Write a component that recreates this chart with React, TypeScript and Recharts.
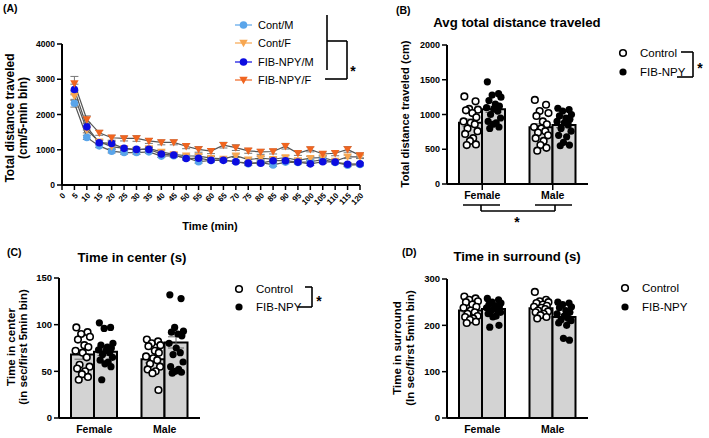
import React from 'react'
import { ComposedChart, Line, Bar, Scatter, XAxis, YAxis, ErrorBar } from 'recharts'

const FONT = '"Liberation Sans", Arial, Helvetica, sans-serif'

// (A) distance per 5-min bin
const minutes = [5, 10, 15, 20, 25, 30, 35, 40, 45, 50, 55, 60, 65, 70, 75, 80, 85, 90, 95, 100, 105, 110, 115, 120]
const timeTicks = [0, 5, 10, 15, 20, 25, 30, 35, 40, 45, 50, 55, 60, 65, 70, 75, 80, 85, 90, 95, 100, 105, 110, 115, 120]
const contM = [2320, 1350, 1110, 960, 920, 920, 940, 820, 830, 775, 660, 700, 715, 660, 600, 640, 570, 650, 640, 660, 720, 640, 560, 580]
const contF = [2520, 1560, 1230, 1090, 1040, 990, 1040, 940, 870, 830, 820, 760, 740, 830, 720, 760, 730, 780, 700, 760, 780, 680, 800, 800]
const fibM = [2710, 1650, 1200, 1180, 1040, 1010, 1010, 880, 850, 750, 760, 700, 700, 660, 620, 620, 690, 690, 650, 600, 660, 650, 590, 600]
const fibF = [2880, 1860, 1480, 1340, 1320, 1320, 1250, 1210, 1210, 1100, 1010, 960, 1130, 1060, 970, 940, 950, 1100, 900, 1010, 880, 900, 1010, 840]
const contMErr = [110, 60, 50, 50, 45, 50, 45, 40, 45, 40, 40, 40, 40, 40, 50, 45, 40, 45, 40, 40, 45, 40, 40, 40]
const contFErr = [120, 80, 60, 60, 55, 60, 50, 50, 50, 45, 50, 45, 45, 50, 45, 45, 45, 50, 45, 50, 50, 45, 50, 50]
const fibMErr = [150, 90, 60, 60, 55, 60, 55, 50, 50, 45, 45, 45, 45, 45, 45, 45, 45, 45, 45, 45, 45, 45, 45, 40]
const fibFErr = [200, 100, 70, 70, 70, 80, 70, 70, 70, 70, 80, 70, 80, 80, 70, 70, 70, 80, 60, 70, 60, 70, 80, 70]

const sexes = ['Female', 'Male']

// (B) avg total distance (cm)
const distCtrlMean = [880, 815]
const distFibMean = [1075, 850]
const distCtrlSem = [55, 50]
const distFibSem = [45, 40]
const distCtrlF = [1260, 1190, 1080, 1070, 1060, 1020, 960, 900, 880, 860, 800, 760, 720, 660, 620, 570, 560]
const distFibF = [1470, 1300, 1280, 1250, 1200, 1150, 1120, 1100, 1080, 1050, 1000, 950, 900, 880, 860, 820, 800]
const distCtrlM = [1210, 1140, 1050, 1020, 980, 900, 860, 820, 800, 760, 740, 700, 660, 620, 560, 520, 480]
const distFibM = [1090, 1070, 1050, 1000, 980, 950, 930, 900, 880, 850, 800, 760, 700, 680, 600, 560, 550]

// (C) time in center (s)
const centerCtrlMean = [68, 63]
const centerFibMean = [71, 81]
const centerCtrlSem = [5, 4]
const centerFibSem = [4, 6]
const centerCtrlF = [97, 92, 90, 87, 84, 78, 76, 72, 70, 65, 57, 55, 53, 50, 47, 44, 41]
const centerFibF = [102, 97, 96, 80, 78, 76, 75, 73, 72, 70, 68, 65, 62, 60, 58, 55, 41]
const centerCtrlM = [84, 82, 80, 78, 77, 72, 70, 66, 64, 62, 58, 55, 52, 50, 48, 30]
const centerFibM = [132, 128, 97, 93, 92, 90, 88, 80, 75, 70, 68, 60, 55, 52, 50, 49, 48]

// (D) time in surround (s)
const surrCtrlMean = [232, 237]
const surrFibMean = [235, 218]
const surrCtrlSem = [4, 4]
const surrFibSem = [4, 6]
const surrCtrlF = [262, 258, 255, 252, 250, 245, 240, 238, 232, 228, 225, 220, 218, 215, 212, 208, 205]
const surrFibF = [258, 255, 250, 248, 245, 242, 240, 238, 235, 232, 230, 228, 225, 220, 218, 200, 196]
const surrCtrlM = [272, 255, 252, 250, 248, 245, 242, 240, 238, 235, 232, 230, 228, 225, 222, 218, 215]
const surrFibM = [250, 248, 245, 240, 238, 232, 228, 225, 220, 215, 212, 210, 205, 200, 172, 168]

// horizontal spread of the dots, as a fraction of half a bar
const jitter = [-0.8, 0.6, -0.2, 0.9, -0.6, 0.2, 0.7, -0.9, 0.0, 0.5, -0.4, 0.85, -0.7, 0.3, -0.1, 0.65, -0.5]

const lineSeries = [
  { key: 'contM', err: 'contMErr', name: 'Cont/M', color: '#5aa5ea', tri: false },
  { key: 'contF', err: 'contFErr', name: 'Cont/F', color: '#f7a650', tri: true },
  { key: 'fibM', err: 'fibMErr', name: 'FIB-NPY/M', color: '#0c0ce0', tri: false },
  { key: 'fibF', err: 'fibFErr', name: 'FIB-NPY/F', color: '#f06520', tri: true },
]

const lineRows = minutes.map((t, i) => ({
  t,
  contM: contM[i], contF: contF[i], fibM: fibM[i], fibF: fibF[i],
  contMErr: contMErr[i], contFErr: contFErr[i], fibMErr: fibMErr[i], fibFErr: fibFErr[i],
}))

function markerShape(x: number, y: number, color: string, tri: boolean, key?: any) {
  if (tri) {
    return <path key={key} d={`M${x - 4.2},${y - 3.2}L${x + 4.2},${y - 3.2}L${x},${y + 4.2}Z`} fill={color} />
  }
  return <circle key={key} cx={x} cy={y} r={3.8} fill={color} />
}

const axisLine = { stroke: '#000', strokeWidth: 2 }
const tickLineStyle = { stroke: '#000', strokeWidth: 1.5 }

function TimeCourse() {
  return (
    <ComposedChart width={364} height={230} data={lineRows} margin={{ top: 44, right: 4, bottom: 14, left: 22 }}>
      <XAxis dataKey="t" type="number" domain={[0, 120]} ticks={timeTicks} interval={0} height={31}
        tick={{ fontSize: 8, fontWeight: 700, fill: '#000', fontFamily: FONT }} angle={-45} textAnchor="end"
        tickSize={5} axisLine={axisLine} tickLine={tickLineStyle} />
      <YAxis domain={[0, 4000]} ticks={[0, 1000, 2000, 3000, 4000]} width={40} tickSize={5}
        tick={{ fontSize: 8.5, fontWeight: 700, fill: '#000', fontFamily: FONT }} axisLine={axisLine} tickLine={tickLineStyle} />
      {lineSeries.map((s) => (
        <Line key={s.key} dataKey={s.key} type="linear" stroke="#555" strokeWidth={1.2} isAnimationActive={false}
          dot={(p: any) => markerShape(p.cx, p.cy, s.color, s.tri, p.index)} activeDot={false}>
          <ErrorBar dataKey={s.err} width={4} stroke="#777" strokeWidth={1} />
        </Line>
      ))}
    </ComposedChart>
  )
}

const PLOT_W = 141
const BAR_W = 23
const UNIT = PLOT_W / 2
const HALF_BAR = BAR_W / 2 / UNIT
const SPREAD = 8 / UNIT

function dotRows(groups: number[][], side: number) {
  return groups.flatMap((vals, g) =>
    vals.map((v, i) => ({ x: g + 0.5 + side * HALF_BAR + jitter[i % jitter.length] * SPREAD, y: v })))
}

const openDot = (p: any) => <circle cx={p.cx} cy={p.cy} r={3.3} fill="#fff" stroke="#000" strokeWidth={1.6} />
const fullDot = (p: any) => <circle cx={p.cx} cy={p.cy} r={3.6} fill="#000" />

type PanelProps = {
  left: number; top: number; width: number; height: number
  margin: { top: number; right: number; bottom: number; left: number }
  yMax: number; yTicks: number[]; tickFont: number
  ctrlMean: number[]; fibMean: number[]; ctrlSem: number[]; fibSem: number[]
  ctrlDots: number[][]; fibDots: number[][]; showTicks: boolean
}

function DotBarPanel(p: PanelProps) {
  const rows = sexes.map((sex, i) => ({
    sex, ctrl: p.ctrlMean[i], fib: p.fibMean[i], ctrlSem: p.ctrlSem[i], fibSem: p.fibSem[i],
  }))
  return (
    <div style={{ position: 'absolute', left: p.left, top: p.top }}>
      <ComposedChart width={p.width} height={p.height} data={rows} margin={p.margin} barGap={0}>
        <XAxis xAxisId="cat" dataKey="sex" height={20} axisLine={axisLine}
          tickLine={p.showTicks ? tickLineStyle : false} tickSize={6}
          tick={{ fontSize: 10.5, fontWeight: 700, fill: '#000', fontFamily: FONT }} />
        <XAxis xAxisId="num" dataKey="x" type="number" domain={[0, 2]} hide allowDataOverflow />
        <YAxis domain={[0, p.yMax]} ticks={p.yTicks} width={36} tickSize={5} interval={0}
          tick={{ fontSize: p.tickFont, fontWeight: 700, fill: '#000', fontFamily: FONT }} axisLine={axisLine} tickLine={tickLineStyle} />
        <Bar xAxisId="cat" dataKey="ctrl" barSize={BAR_W} fill="#d3d3d3" stroke="#000" strokeWidth={2} isAnimationActive={false}>
          <ErrorBar dataKey="ctrlSem" width={8} stroke="#666" strokeWidth={1} />
        </Bar>
        <Bar xAxisId="cat" dataKey="fib" barSize={BAR_W} fill="#d3d3d3" stroke="#000" strokeWidth={2} isAnimationActive={false}>
          <ErrorBar dataKey="fibSem" width={8} stroke="#666" strokeWidth={1} />
        </Bar>
        <Scatter xAxisId="num" data={dotRows(p.ctrlDots, -1)} dataKey="y" shape={openDot} isAnimationActive={false} />
        <Scatter xAxisId="num" data={dotRows(p.fibDots, 1)} dataKey="y" shape={fullDot} isAnimationActive={false} />
      </ComposedChart>
    </div>
  )
}

function VText({ x, y, size, children }: { x: number; y: number; size: number; children: React.ReactNode }) {
  return (
    <text transform={`translate(${x},${y}) rotate(-90)`} textAnchor="middle" dominantBaseline="central"
      fontSize={size} fontWeight={700}>{children}</text>
  )
}

function GroupLegend({ x, y1, y2 }: { x: number; y1: number; y2: number }) {
  return (
    <g fontSize={11.5}>
      <circle cx={x} cy={y1} r={3.3} fill="#fff" stroke="#000" strokeWidth={1.6} />
      <text x={x + 17} y={y1} dominantBaseline="central">Control</text>
      <circle cx={x} cy={y2} r={3.6} fill="#000" />
      <text x={x + 17} y={y2} dominantBaseline="central">FIB-NPY</text>
    </g>
  )
}

function Overlay() {
  const ln = { stroke: '#000', strokeWidth: 1.6 }
  return (
    <svg width={709} height={438} style={{ position: 'absolute', left: 0, top: 0, pointerEvents: 'none' }}
      fontFamily={FONT} fill="#000">
      {/* (A) */}
      <text x={3} y={12} fontSize={10.5} fontWeight={700}>(A)</text>
      <VText x={10} y={118} size={12}>Total distance traveled</VText>
      <VText x={23} y={118} size={12}>(cm/5-min bin)</VText>
      <text x={210} y={230} fontSize={11} fontWeight={700} textAnchor="middle">Time (min)</text>
      {lineSeries.map((s, i) => {
        const y = [25, 43, 62, 80][i]
        return (
          <g key={s.key}>
            <line x1={235} x2={252} y1={y} y2={y} stroke={s.color} strokeWidth={1.2} />
            {markerShape(243.5, y, s.color, s.tri)}
            <text x={258} y={y} fontSize={11} dominantBaseline="central">{s.name}</text>
          </g>
        )
      })}
      <line x1={327} x2={327} y1={15} y2={70} {...ln} />
      <line x1={327} x2={347} y1={41} y2={41} {...ln} />
      <line x1={347} x2={347} y1={41} y2={79} {...ln} />
      <line x1={325} x2={347} y1={79} y2={79} {...ln} />
      <text x={353} y={76} fontSize={14} fontWeight={700} textAnchor="middle">*</text>

      {/* (B) */}
      <text x={396} y={14} fontSize={10.5} fontWeight={700}>(B)</text>
      <text x={517} y={27} fontSize={13.2} fontWeight={700} textAnchor="middle">Avg total distance traveled</text>
      <VText x={405} y={114} size={11.2}>Total distance traveled (cm)</VText>
      <GroupLegend x={623} y1={53} y2={72} />
      <line x1={681} x2={693} y1={52} y2={52} {...ln} />
      <line x1={693} x2={693} y1={52} y2={77} {...ln} />
      <line x1={677} x2={693} y1={77} y2={77} {...ln} />
      <text x={700} y={73} fontSize={14} fontWeight={700} textAnchor="middle">*</text>
      <line x1={463} x2={500} y1={205} y2={205} {...ln} />
      <line x1={535} x2={572} y1={205} y2={205} {...ln} />
      <line x1={481} x2={481} y1={205} y2={211} {...ln} />
      <line x1={555} x2={555} y1={205} y2={211} {...ln} />
      <line x1={481} x2={555} y1={211} y2={211} {...ln} />
      <text x={517} y={227} fontSize={14} fontWeight={700} textAnchor="middle">*</text>

      {/* (C) */}
      <text x={7} y={256} fontSize={10.5} fontWeight={700}>(C)</text>
      <text x={132} y={262} fontSize={13.2} fontWeight={700} textAnchor="middle">Time in center (s)</text>
      <VText x={11} y={347} size={11.5}>Time in center</VText>
      <VText x={23} y={347} size={11.5}>(in sec/first 5min bin)</VText>
      <GroupLegend x={239} y1={289} y2={307} />
      <line x1={305} x2={312} y1={287} y2={287} {...ln} />
      <line x1={312} x2={312} y1={287} y2={307} {...ln} />
      <line x1={298} x2={312} y1={307} y2={307} {...ln} />
      <text x={319} y={306} fontSize={14} fontWeight={700} textAnchor="middle">*</text>

      {/* (D) */}
      <text x={402} y={256} fontSize={10.5} fontWeight={700}>(D)</text>
      <text x={517} y={261} fontSize={13.2} fontWeight={700} textAnchor="middle">Time in surround (s)</text>
      <VText x={397} y={348} size={11.5}>Time in surround</VText>
      <VText x={410} y={348} size={11.5}>(In sec/first 5min bin)</VText>
      <GroupLegend x={625} y1={288} y2={307} />
    </svg>
  )
}

export default function App() {
  return (
    <div style={{ position: 'absolute', left: 0, top: 0, width: 709, height: 438, background: '#fff', fontFamily: FONT, overflow: 'hidden' }}>
      <div style={{ position: 'absolute', left: 0, top: 0 }}>
        <TimeCourse />
      </div>
      <DotBarPanel left={360} top={0} width={349} height={230} margin={{ top: 45, right: 121, bottom: 26, left: 51 }}
        yMax={2000} yTicks={[0, 500, 1000, 1500, 2000]} tickFont={9}
        ctrlMean={distCtrlMean} fibMean={distFibMean} ctrlSem={distCtrlSem} fibSem={distFibSem}
        ctrlDots={[distCtrlF, distCtrlM]} fibDots={[distFibF, distFibM]} showTicks />
      <DotBarPanel left={0} top={230} width={360} height={208} margin={{ top: 48, right: 160, bottom: 0, left: 23 }}
        yMax={150} yTicks={[0, 50, 100, 150]} tickFont={9.5}
        ctrlMean={centerCtrlMean} fibMean={centerFibMean} ctrlSem={centerCtrlSem} fibSem={centerFibSem}
        ctrlDots={[centerCtrlF, centerCtrlM]} fibDots={[centerFibF, centerFibM]} showTicks={false} />
      <DotBarPanel left={360} top={230} width={349} height={208} margin={{ top: 49, right: 121, bottom: 0, left: 51 }}
        yMax={300} yTicks={[0, 100, 200, 300]} tickFont={9.5}
        ctrlMean={surrCtrlMean} fibMean={surrFibMean} ctrlSem={surrCtrlSem} fibSem={surrFibSem}
        ctrlDots={[surrCtrlF, surrCtrlM]} fibDots={[surrFibF, surrFibM]} showTicks={false} />
      <Overlay />
    </div>
  )
}
